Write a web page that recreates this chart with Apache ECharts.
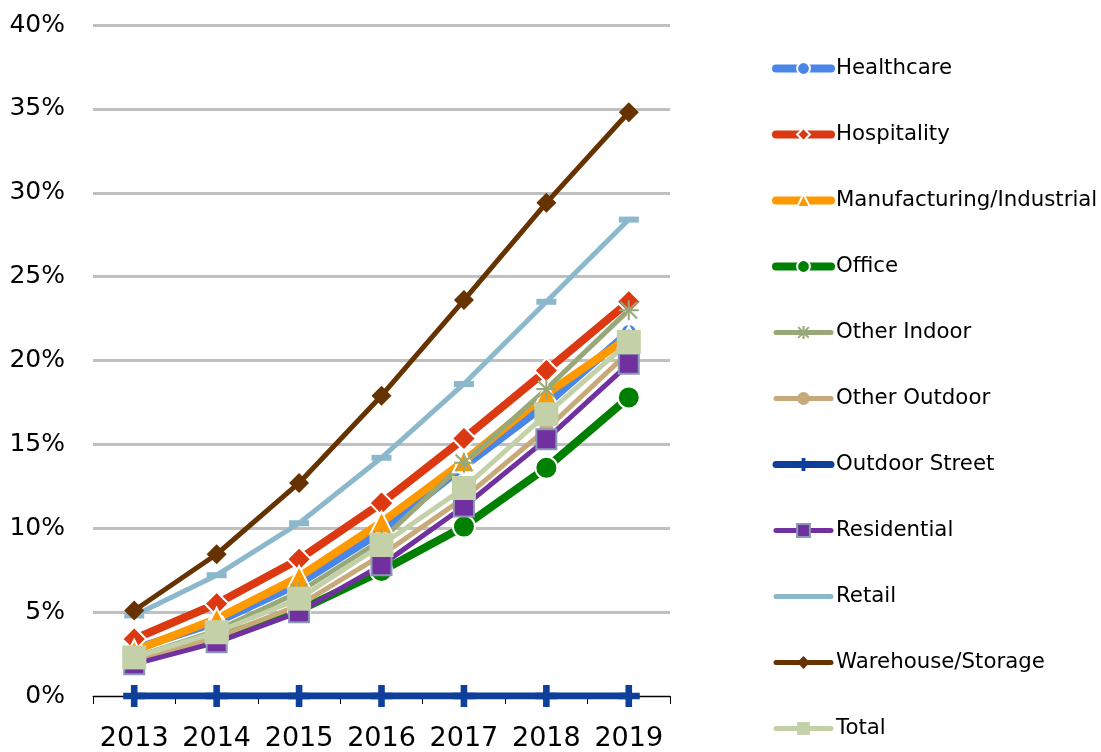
<!DOCTYPE html>
<html>
<head>
<meta charset="utf-8">
<script src="https://cdn.jsdelivr.net/npm/echarts@6/dist/echarts.min.js"></script>
<style>
  html, body { margin: 0; padding: 0; background: #fff; }
  #main { width: 1101px; height: 752px; }
</style>
</head>
<body>
<div id="main"></div>
<script>
// years on the x axis
const years = ['2013', '2014', '2015', '2016', '2017', '2018', '2019'];

// share per sector, in percent
const healthcare    = [2.8, 4.4, 6.7, 9.8, 13.7, 17.4, 21.7];
const hospitality   = [3.4, 5.5, 8.15, 11.5, 15.35, 19.4, 23.5];
const manufacturing = [2.7, 4.6, 7.1, 10.35, 14.0, 18.0, 21.4];
const office        = [2.2, 3.5, 5.1, 7.45, 10.1, 13.6, 17.8];
const otherIndoor   = [2.3, 3.9, 6.2, 9.3, 13.9, 18.3, 23.0];
const otherOutdoor  = [2.1, 3.5, 5.4, 8.4, 11.8, 15.9, 20.5];
const outdoorStreet = [0, 0, 0, 0, 0, 0, 0];
const residential   = [1.9, 3.2, 5.0, 7.8, 11.3, 15.3, 19.8];
const retail        = [4.8, 7.2, 10.3, 14.2, 18.6, 23.5, 28.4];
const warehouse     = [5.1, 8.45, 12.7, 17.9, 23.6, 29.4, 34.8];
const total         = [2.3, 3.8, 5.8, 9.0, 12.4, 16.8, 21.1];

const font = 'DejaVu Sans';
const asterisk = 'path://M0,0L10,10M10,0L0,10M5,-1L5,11M-1,5L11,5';
const plus = 'path://M3.5,0L6.5,0L6.5,3.5L10,3.5L10,6.5L6.5,6.5L6.5,10L3.5,10L3.5,6.5L0,6.5L0,3.5L3.5,3.5Z';

const legendItems = [];

function line(name, data, color, width, symbol, size, border, legendSymbol) {
  legendItems.push({
    name: name,
    lineStyle: { width: width, color: color, cap: 'round' },
    itemStyle: legendSymbol === false ? { opacity: 0 } : undefined
  });
  return {
    name: name,
    type: 'line',
    data: data,
    symbol: symbol,
    symbolSize: size,
    lineStyle: { color: color, width: width },
    itemStyle: {
      color: color,
      borderColor: border ? border.color : color,
      borderWidth: border ? border.width : 0
    },
    emphasis: { disabled: true }
  };
}

const series = [
  line('Healthcare', healthcare, '#4a86e8', 8, 'circle', 16, { color: '#fff', width: 2 }),
  line('Hospitality', hospitality, '#dc3912', 8, 'diamond', 24, { color: '#fff', width: 2 }),
  line('Manufacturing/Industrial', manufacturing, '#ff9900', 8, 'triangle', 22, { color: '#fff', width: 2 }),
  line('Office', office, '#008000', 8, 'circle', 22, { color: '#fff', width: 2 }),
  line('Other Indoor', otherIndoor, '#98a878', 5, asterisk, 20, { color: '#98a878', width: 2 }),
  line('Other Outdoor', otherOutdoor, '#c8aa7a', 5, 'circle', 14, null),
  line('Outdoor Street', outdoorStreet, '#0e3f9a', 7, plus, 22, null),
  line('Residential', residential, '#7030a0', 5, 'rect', 20, { color: '#8a98b4', width: 2 }),
  line('Retail', retail, '#8cb8cc', 5, 'rect', [20, 6], null, false),
  line('Warehouse/Storage', warehouse, '#663300', 5, 'diamond', 20, null),
  line('Total', total, '#c3d0a8', 5, 'rect', 24, null)
];

const chart = echarts.init(document.getElementById('main'));
chart.setOption({
  animation: false,
  grid: { left: 93, right: 431, top: 25, bottom: 55, containLabel: false },
  legend: {
    orient: 'vertical',
    left: 767,
    top: 53,
    height: 700,
    itemWidth: 55,
    itemHeight: 16,
    itemGap: 45,
    textStyle: { fontFamily: font, fontSize: 21.3, color: '#000' },
    data: legendItems
  },
  xAxis: {
    type: 'category',
    data: years,
    boundaryGap: true,
    axisLine: { lineStyle: { color: '#000', width: 1 } },
    axisTick: { show: true, length: 8, lineStyle: { color: '#000' } },
    axisLabel: { fontFamily: font, fontSize: 27, color: '#000', margin: 29, interval: 0 }
  },
  yAxis: {
    type: 'value',
    min: 0,
    max: 40,
    interval: 5,
    axisLine: { show: false },
    axisTick: { show: false },
    splitLine: { lineStyle: { color: '#c0c0c0', width: 3 } },
    axisLabel: { fontFamily: font, fontSize: 25, color: '#000', margin: 28, formatter: '{value}%' }
  },
  series: series
});
</script>
</body>
</html>
